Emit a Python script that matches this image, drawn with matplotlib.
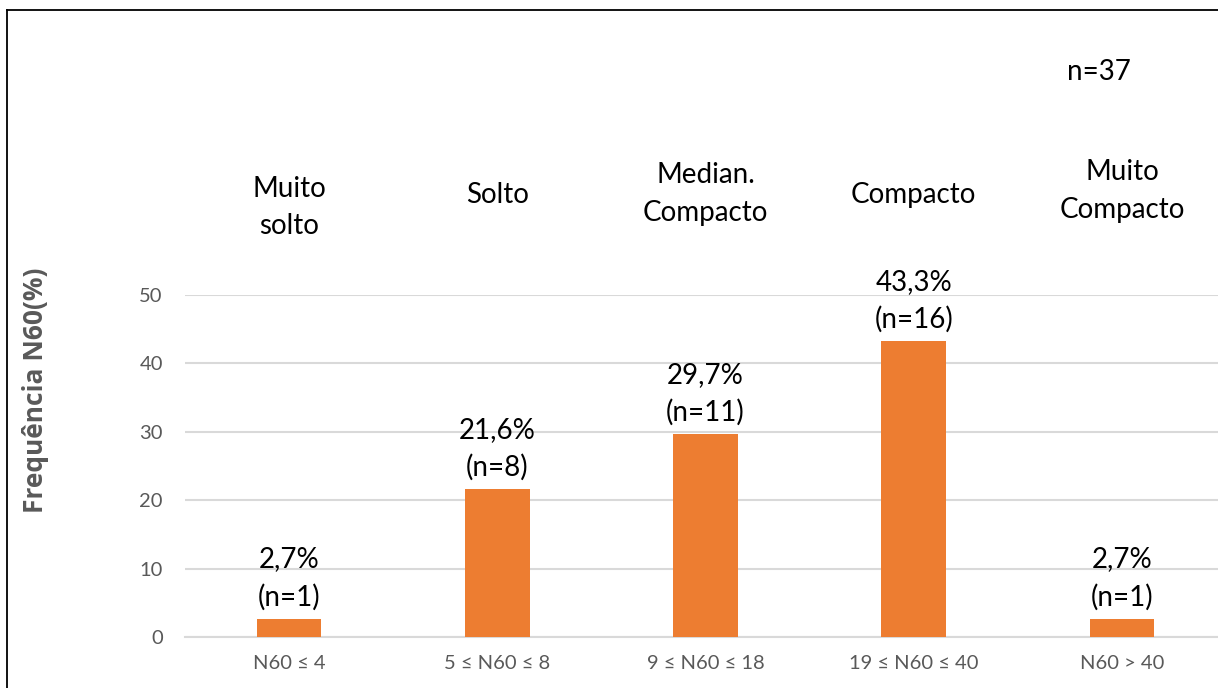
import matplotlib
matplotlib.use("Agg")
import matplotlib.pyplot as plt
from matplotlib.lines import Line2D

plt.rcParams['font.family'] = ['Lato', 'DejaVu Sans']

categories = ["N60 ≤ 4", "5 ≤ N60 ≤ 8", "9 ≤ N60 ≤ 18", "19 ≤ N60 ≤ 40", "N60 > 40"]
values = [2.7, 21.6, 29.7, 43.3, 2.7]
counts = [1, 8, 11, 16, 1]
classes = ["Muito\nsolto", "Solto", "Median.\nCompacto", "Compacto", "Muito\nCompacto"]
class_label_y = [62.8, 64.6, 64.8, 64.6, 65.2]
total_label = "n=37"
yticks = [0, 10, 20, 30, 40, 50]

W, H = 1218, 688
fig = plt.figure(figsize=(W / 100, H / 100), dpi=100)
ax = fig.add_axes([185 / W, (H - 637) / H, 1041 / W, (637 - 295) / H])

x = list(range(len(categories)))
ax.bar(x, values, width=0.31, color="#ED7D31", zorder=3)

ax.set_xlim(-0.5, len(categories) - 0.5)
ax.set_ylim(0, 50)
ax.set_yticks(yticks)
ax.set_xticks(x)
ax.set_xticklabels(categories)
ax.yaxis.grid(True, color="#D9D9D9", linewidth=1.5, zorder=0)
ax.set_axisbelow(True)
for s in ["top", "right", "left"]:
    ax.spines[s].set_visible(False)
ax.spines["bottom"].set_color("#D9D9D9")
ax.spines["bottom"].set_linewidth(1.5)
ax.tick_params(axis="both", length=0, labelsize=14.5, labelcolor="#595959")
ax.tick_params(axis="y", pad=16)
ax.tick_params(axis="x", pad=13)

ax.set_ylabel("Frequência N60(%)", fontsize=19, fontweight="bold", color="#595959",
              family=["Open Sans", "DejaVu Sans"])
ax.yaxis.set_label_coords(-0.131, 0.722)

for xi, v, n in zip(x, values, counts):
    ax.text(xi, v + 1.2, f"{v:.1f}%".replace(".", ",") + f"\n(n={n})",
            ha="center", va="bottom", fontsize=20, color="black",
            linespacing=1.5, clip_on=False)

for xi, c, cy in zip(x, classes, class_label_y):
    ax.text(xi, cy, c, ha="center", va="center", fontsize=20, color="black",
            linespacing=1.55, clip_on=False)

ax.text(3.89, 82.6, total_label, ha="center", va="center", fontsize=20, color="black", clip_on=False)

# frame lines (left and top)
fig.add_artist(Line2D([7 / W, 7 / W], [0, 1 - 10 / H], transform=fig.transFigure, color="black", linewidth=1.3))
fig.add_artist(Line2D([7 / W, 1], [1 - 10 / H, 1 - 10 / H], transform=fig.transFigure, color="black", linewidth=1.3))

fig.savefig("out.png", dpi=100)
